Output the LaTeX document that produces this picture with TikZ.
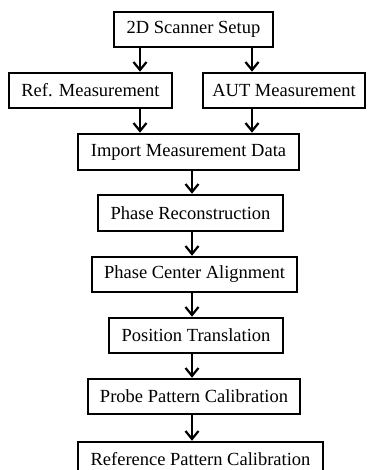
\documentclass[tikz,border=0pt]{standalone}
\usepackage{fontspec}
\setmainfont{Liberation Serif}
\usetikzlibrary{arrows.meta}
\tikzset{
    stepbox/.style={draw, line width=2.5pt, minimum height=35pt, inner sep=0pt,
        font=\fontsize{18.5}{20}\selectfont},
    flow/.style={line width=2.2pt, -{Straight Barb[length=8pt,width=13pt,line width=2.2pt]}}
}
\begin{document}
\begin{tikzpicture}[x=1pt,y=-1pt]
    \useasboundingbox (0,0) rectangle (367,470);
    \node[stepbox, minimum width=159pt] (setup) at (193.5,29.5) {2D Scanner Setup};
    \node[stepbox, minimum width=163pt] (ref) at (90.5,90.5) {Ref. Measurement};
    \node[stepbox, minimum width=162pt] (aut) at (284,90.5) {AUT Measurement};
    \node[stepbox, minimum width=221pt, minimum height=36pt] (import) at (188.5,152) {Import Measurement Data};
    \node[stepbox, minimum width=185pt, minimum height=36pt] (recon) at (190.5,213) {Phase Reconstruction};
    \node[stepbox, minimum width=205pt] (align) at (194.5,274.5) {Phase Center Alignment};
    \node[stepbox, minimum width=174pt] (translate) at (196,335.5) {Position Translation};
    \node[stepbox, minimum width=212pt] (probe) at (194,396.5) {Probe Pattern Calibration};
    \node[stepbox, minimum width=245pt] (refcal) at (200.5,459.5) {Reference Pattern Calibration};
    % arrow columns
    \coordinate (lft) at (140,0);
    \coordinate (rgt) at (252,0);
    \coordinate (col) at (192,0);
    \draw[flow] (setup.south -| lft) -- (ref.north -| lft);
    \draw[flow] (setup.south -| rgt) -- (aut.north -| rgt);
    \draw[flow] (ref.south -| lft) -- (import.north -| lft);
    \draw[flow] (aut.south -| rgt) -- (import.north -| rgt);
    \draw[flow] (import.south -| col) -- (recon.north -| col);
    \draw[flow] (recon.south -| col) -- (align.north -| col);
    \draw[flow] (align.south -| col) -- (translate.north -| col);
    \draw[flow] (translate.south -| col) -- (probe.north -| col);
    \draw[flow] (probe.south -| col) -- (refcal.north -| col);
\end{tikzpicture}
\end{document}
